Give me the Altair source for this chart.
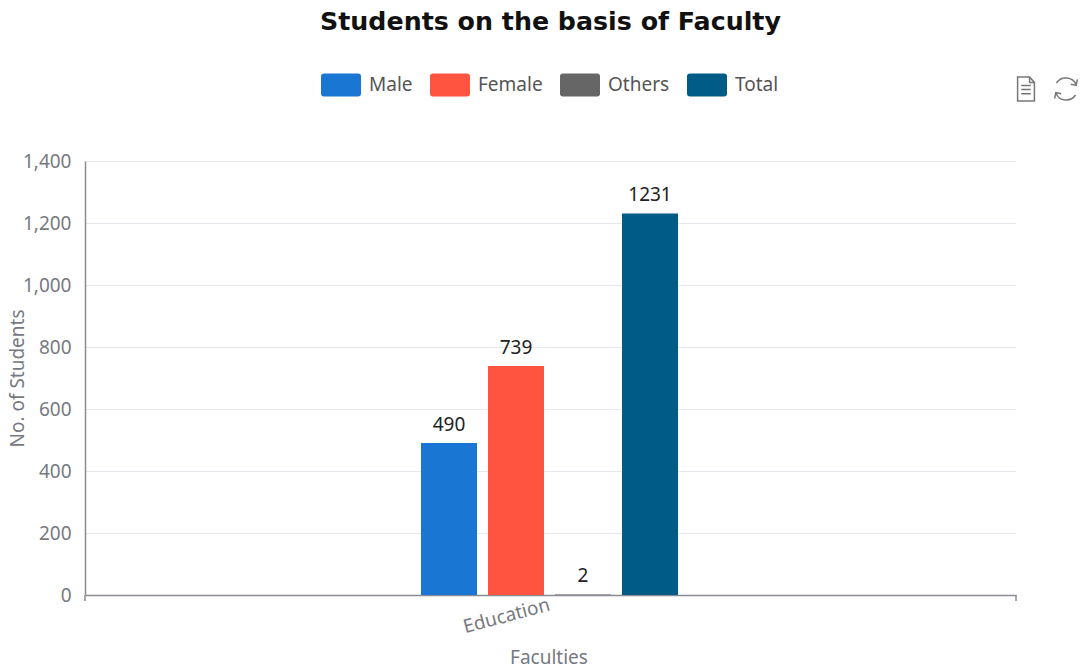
import altair as alt
import pandas as pd

faculties = ["Education"]
series_names = ["Male", "Female", "Others", "Total"]
student_counts = [490, 739, 2, 1231]
series_colors = ["#1976d2", "#ff5440", "#666666", "#005b87"]

table = pd.DataFrame({
    "Faculty": faculties * len(series_names),
    "Series": series_names,
    "Students": student_counts,
})

AXIS_GRAY = "#777980"
LINE_GRAY = "#8a8c94"
FONT = "Noto Sans"
PLOT_W, PLOT_H = 931, 434

# Rounded swatch used for the legend entries
SWATCH = ("M-0.85,-0.58 L0.85,-0.58 Q1,-0.58 1,-0.43 L1,0.43 Q1,0.58 0.85,0.58 "
          "L-0.85,0.58 Q-1,0.58 -1,0.43 L-1,-0.43 Q-1,-0.58 -0.85,-0.58 Z")

# Toolbox glyphs beside the legend
DOC_ICON = ("M-0.7,-1 L0.3,-1 L0.7,-0.55 L0.7,1 L-0.7,1 Z M0.3,-1 L0.3,-0.55 L0.7,-0.55 "
            "M-0.4,-0.3 L0.4,-0.3 M-0.4,0.05 L0.4,0.05 M-0.4,0.4 L0.4,0.4")
REFRESH_ICON = ("M0.85,-0.35 A0.95,0.95 0 0 0 -0.8,-0.5 M-0.85,0.35 A0.95,0.95 0 0 0 0.8,0.5 "
                "M0.95,-0.8 L0.85,-0.3 L0.4,-0.4 M-0.95,0.8 L-0.85,0.3 L-0.4,0.4")

band_scale = alt.Scale(paddingInner=0.1916, paddingOuter=1, align=0.4985)

x_enc = alt.X(
    "Faculty:N",
    scale=band_scale,
    axis=alt.Axis(
        title="Faculties", titleFont=FONT, titleFontSize=19, titleFontWeight="normal",
        titleColor=AXIS_GRAY, titleX=PLOT_W / 2 - 2, titleY=53, labelFont=FONT, labelFontSize=19,
        labelColor=AXIS_GRAY, labelAngle=345, labelAlign="right", labelBaseline="middle",
        labelPadding=9, ticks=False, domain=True, domainColor=LINE_GRAY,
        domainWidth=1.5, grid=False,
    ),
)
offset_enc = alt.XOffset(
    "Series:N", sort=series_names,
    scale=alt.Scale(paddingInner=0.164, paddingOuter=0.082),
)
y_enc = alt.Y(
    "Students:Q",
    scale=alt.Scale(domain=[0, 1400], nice=False),
    axis=alt.Axis(
        title="No. of Students", titleFont=FONT, titleFontSize=19, titleFontWeight="normal",
        titleColor=AXIS_GRAY, titleX=-58, values=list(range(0, 1401, 200)), format=",d",
        labelFont=FONT, labelFontSize=19, labelColor=AXIS_GRAY, labelPadding=14,
        ticks=False, domain=True, domainColor=LINE_GRAY, domainWidth=1.5,
        grid=True, gridColor="#e6e8ee", gridWidth=1,
    ),
)

bars = alt.Chart(table).mark_bar().encode(
    x=x_enc,
    xOffset=offset_enc,
    y=y_enc,
    color=alt.Color(
        "Series:N",
        sort=series_names,
        scale=alt.Scale(domain=series_names, range=series_colors),
        legend=alt.Legend(
            title=None, orient="none", legendX=236, legendY=-96,
            direction="horizontal", columns=4, gridAlign="none",
            symbolType=SWATCH, symbolSize=1600, symbolStrokeWidth=0,
            symbolOpacity=1, labelFont=FONT, labelFontSize=19, labelColor="#555555",
            labelOffset=8, columnPadding=17,
        ),
    ),
)

value_labels = alt.Chart(table).mark_text(
    font=FONT, fontSize=19, color="#222222", baseline="bottom", dy=-8,
).encode(
    x=alt.X("Faculty:N", scale=band_scale),
    xOffset=offset_enc,
    y="Students:Q",
    text="Students:Q",
)

# Boundary ticks at both ends of the category axis
end_tick_left = alt.Chart(pd.DataFrame({"end": [0]})).mark_rule(
    color=LINE_GRAY, strokeWidth=1.5,
).encode(
    x=alt.value(0), y=alt.value(PLOT_H), y2=alt.value(PLOT_H + 6),
)
end_tick_right = alt.Chart(pd.DataFrame({"end": [PLOT_W]})).mark_rule(
    color=LINE_GRAY, strokeWidth=1.5,
).encode(
    x=alt.value(PLOT_W), y=alt.value(PLOT_H), y2=alt.value(PLOT_H + 6),
)

doc_icon = alt.Chart(pd.DataFrame({"icon": ["doc"]})).mark_point(
    shape=DOC_ICON, size=576, filled=False, stroke="#777777", strokeWidth=1.5, opacity=1,
).encode(x=alt.value(941), y=alt.value(-72))
refresh_icon = alt.Chart(pd.DataFrame({"icon": ["refresh"]})).mark_point(
    shape=REFRESH_ICON, size=576, filled=False, stroke="#777777", strokeWidth=1.5, opacity=1,
).encode(x=alt.value(981), y=alt.value(-72))

chart = alt.layer(bars, value_labels, end_tick_left, end_tick_right, doc_icon, refresh_icon).properties(
    width=PLOT_W,
    height=PLOT_H,
    title=alt.TitleParams(
        "Students on the basis of Faculty", font="DejaVu Sans", fontSize=25.3,
        fontWeight="bold", color="#111111", anchor="middle", offset=30,
    ),
    padding={"left": 85, "top": 161, "right": 65, "bottom": 73},
    autosize=alt.AutoSizeParams(type="none"),
    background="white",
).configure_view(stroke=None)

chart.save("out.html", embed_options={"renderer": "svg", "actions": False})
